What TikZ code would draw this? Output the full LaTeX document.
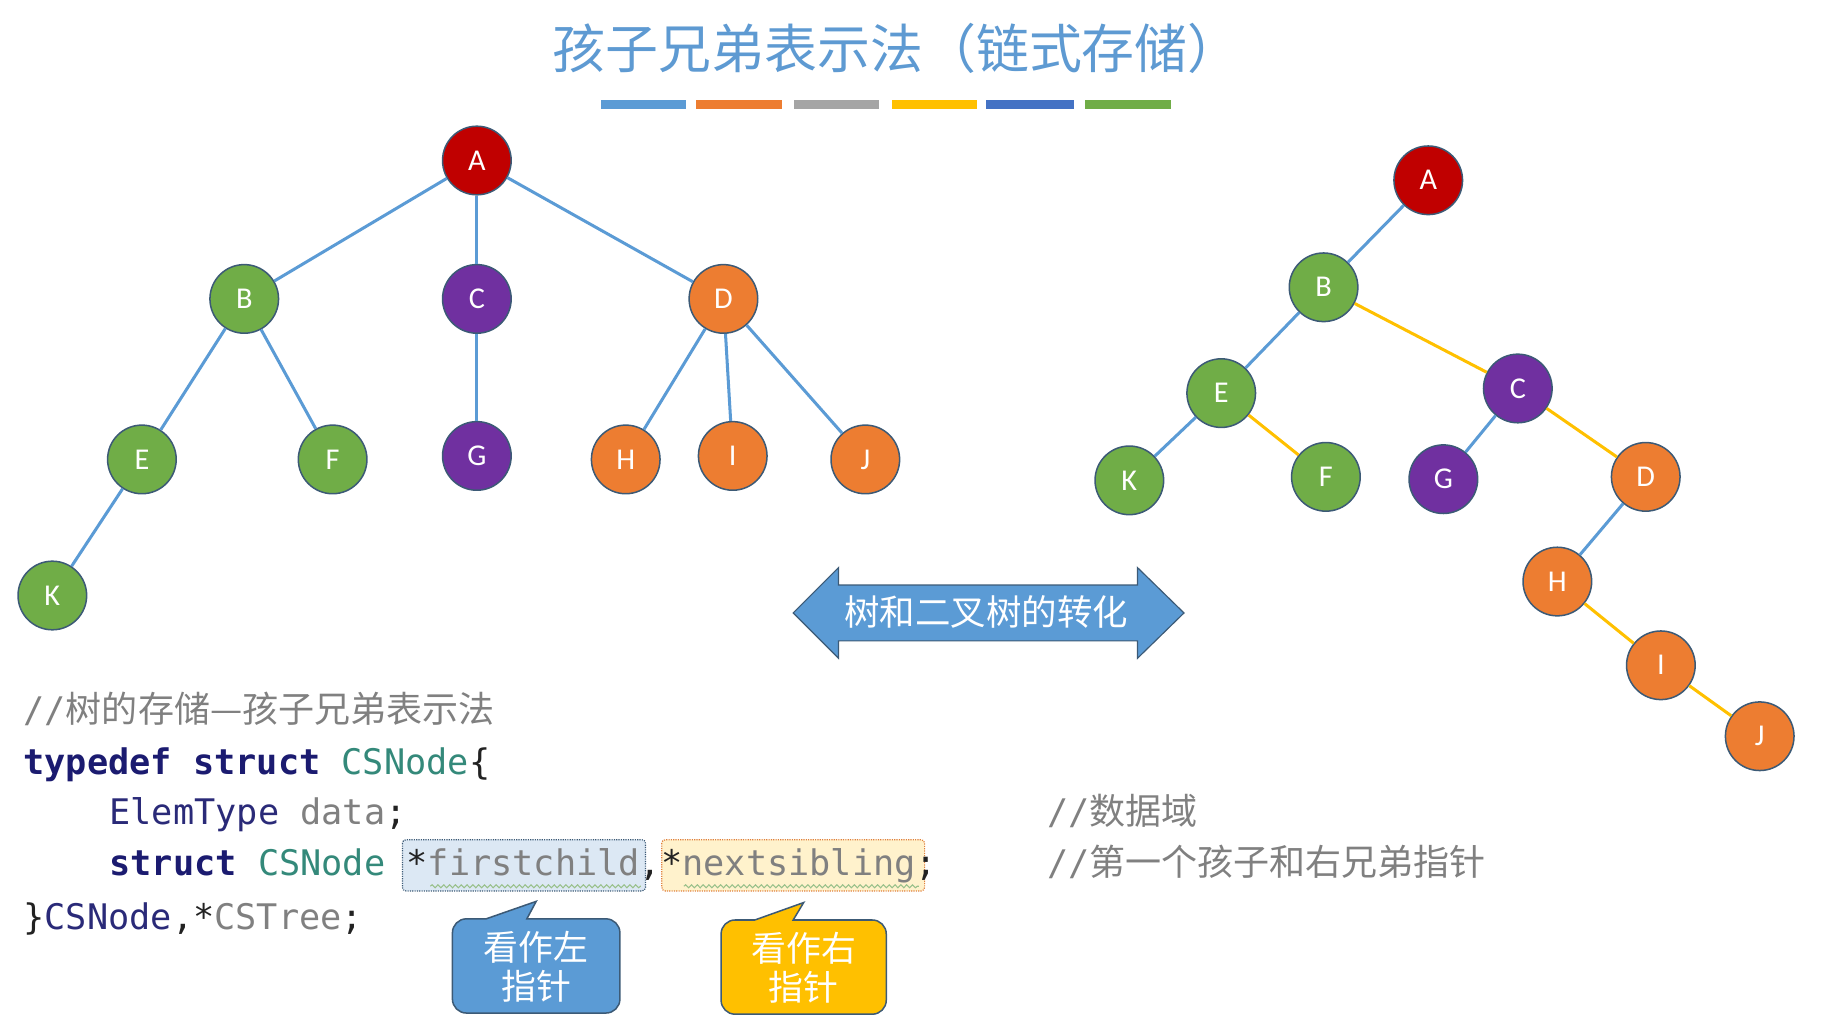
\documentclass[tikz,border=0pt]{standalone}
\usepackage{fontspec}
\setsansfont{Carlito}
\setmonofont{DejaVu Sans Mono}
\newfontfamily\cjk{Noto Sans CJK SC}
\usetikzlibrary{calc,arrows.meta,decorations.pathmorphing}
\definecolor{titleblue}{HTML}{5E9AD2}
\definecolor{edgeblue}{HTML}{5B9BD5}
\definecolor{edgeyellow}{HTML}{FFC000}
\definecolor{nodered}{HTML}{C00000}
\definecolor{nodegreen}{HTML}{70AD47}
\definecolor{nodepurple}{HTML}{7030A0}
\definecolor{nodeorange}{HTML}{ED7D31}
\definecolor{nodeline}{HTML}{3C5A76}
\definecolor{bargray}{HTML}{A5A5A5}
\definecolor{bardark}{HTML}{4472C4}
\definecolor{kwnavy}{HTML}{1B1B70}
\definecolor{idnavy}{HTML}{2A2A78}
\definecolor{csteal}{HTML}{34897A}
\definecolor{codegray}{HTML}{808080}
\definecolor{punct}{HTML}{222222}
\definecolor{hlblue}{HTML}{DCE8F4}
\definecolor{hlyellow}{HTML}{FFF2CC}
\definecolor{hlorange}{HTML}{E0803A}
\definecolor{wavegreen}{HTML}{98C08A}
\tikzset{
    every node/.style={inner sep=0pt},
    tree node/.style={circle,draw=nodeline,line width=1.3pt,minimum size=59pt,text=white,font=\sffamily\fontsize{26}{26}\selectfont},
    red node/.style={tree node,fill=nodered},
    green node/.style={tree node,fill=nodegreen},
    purple node/.style={tree node,fill=nodepurple},
    orange node/.style={tree node,fill=nodeorange},
    child edge/.style={line width=2.6pt,draw=edgeblue},
    sibling edge/.style={line width=2.6pt,draw=edgeyellow},
    bar/.style={line width=0pt},
    code/.style={anchor=base west,font=\ttfamily\fontsize{30.3}{36}\selectfont},
    comment/.style={code,text=codegray},
    hl box/.style={rounded corners=3pt,densely dotted,line width=1pt},
    wavy/.style={draw=wavegreen,line width=0.9pt,decorate,decoration={snake,amplitude=1.3pt,segment length=5pt}},
    callout/.style={draw=nodeline,line width=1.3pt},
    callout text/.style={text=white,align=center,font=\cjk\fontsize{30}{34}\selectfont},
}
\newcommand{\cn}[1]{{\cjk\fontsize{31}{36}\selectfont #1}}

\begin{document}
\begin{tikzpicture}[x=1pt,y=-1pt]
    \useasboundingbox (0,0) rectangle (1570,878.7);

    \node[text=titleblue,font=\cjk\fontsize{45.5}{46}\selectfont] (title) at (771,42) {孩子兄弟表示法（链式存储）};
    \fill[bar,edgeblue] (517,86) rectangle (590,94);
    \fill[bar,nodeorange] (598,86) rectangle (672,94);
    \fill[bar,bargray] (683,86) rectangle (756,94);
    \fill[bar,edgeyellow] (767,86) rectangle (840,94);
    \fill[bar,bardark] (848,86) rectangle (923,94);
    \fill[bar,nodegreen] (933,86) rectangle (1007,94);

    % tree
    \node[red node] (lA) at (410,138) {A};
    \node[green node] (lB) at (210,257) {B};
    \node[purple node] (lC) at (410,257) {C};
    \node[orange node] (lD) at (622,257) {D};
    \node[green node] (lE) at (122,395) {E};
    \node[green node] (lF) at (286,395) {F};
    \node[purple node] (lG) at (410,392) {G};
    \node[orange node] (lH) at (538,395) {H};
    \node[orange node] (lI) at (630,392) {I};
    \node[orange node] (lJ) at (744,395) {J};
    \node[green node] (lK) at (45,512) {K};
    \draw[child edge] (lA) -- (lB);
    \draw[child edge] (lA) -- (lC);
    \draw[child edge] (lA) -- (lD);
    \draw[child edge] (lB) -- (lE);
    \draw[child edge] (lB) -- (lF);
    \draw[child edge] (lC) -- (lG);
    \draw[child edge] (lD) -- (lH);
    \draw[child edge] (lD) -- (lI);
    \draw[child edge] (lD) -- (lJ);
    \draw[child edge] (lE) -- (lK);

    % binary tree
    \node[red node] (rA) at (1228,155) {A};
    \node[green node] (rB) at (1138,247) {B};
    \node[green node] (rE) at (1050,338) {E};
    \node[purple node] (rC) at (1305,334) {C};
    \node[green node] (rK) at (971,413) {K};
    \node[green node] (rF) at (1140,410) {F};
    \node[purple node] (rG) at (1241,412) {G};
    \node[orange node] (rD) at (1415,410) {D};
    \node[orange node] (rH) at (1339,500) {H};
    \node[orange node] (rI) at (1428,572) {I};
    \node[orange node] (rJ) at (1513,633) {J};
    \draw[child edge] (rA) -- (rB);
    \draw[child edge] (rB) -- (rE);
    \draw[sibling edge] (rB) -- (rC);
    \draw[child edge] (rE) -- (rK);
    \draw[sibling edge] (rE) -- (rF);
    \draw[child edge] (rC) -- (rG);
    \draw[sibling edge] (rC) -- (rD);
    \draw[child edge] (rD) -- (rH);
    \draw[sibling edge] (rH) -- (rI);
    \draw[sibling edge] (rI) -- (rJ);

    % double arrow
    \draw[fill=edgeblue,draw=nodeline,line width=1pt] (682,527) -- (721,488) -- (721,503) -- (978,503) -- (978,488) -- (1018,527)
        -- (978,566) -- (978,551) -- (721,551) -- (721,566) -- cycle;
    \node[text=white,font=\cjk\fontsize{30.5}{30}\selectfont] (conv) at (848,526) {树和二叉树的转化};

    % code
    \draw[hl box,fill=hlblue,draw=nodeline] (346,722) rectangle (555,766);
    \draw[hl box,fill=hlyellow,draw=hlorange] (569,722) rectangle (795,766);
    \draw[wavy] (370,762) -- (551,762);
    \draw[wavy] (588,762) -- (790,762);
    \node[comment] (c1) at (20,621) {//\cn{树的存储—孩子兄弟表示法}};
    \node[code] (c2) at (20,666) {{\bfseries\color{kwnavy}typedef struct} {\color{csteal}CSNode}{\color{punct}\{}};
    \node[code] (c3) at (94,709) {{\color{idnavy}ElemType} {\color{codegray}data}{\color{punct};}};
    \node[code] (c4) at (94,753) {{\bfseries\color{kwnavy}struct} {\color{csteal}CSNode} {\color{punct}*}{\color{codegray}firstchild}{\color{punct},*}{\color{codegray}nextsibling}{\color{punct};}};
    \node[code] (c5) at (20,799) {{\color{punct}\}}{\color{idnavy}CSNode}{\color{punct},*}{\color{codegray}CSTree}{\color{punct};}};
    \node[comment] (d1) at (900,709) {//\cn{数据域}};
    \node[comment] (d2) at (900,753) {//\cn{第一个孩子和右兄弟指针}};

    % callouts
    \draw[callout,fill=edgeblue] (453,790) [rounded corners=12pt] -- (533,790) -- (533,871) -- (389,871) -- (389,790) [sharp corners] -- (418,790) -- (461,775) -- cycle;
    \node[callout text] (lnote) at (461,831) {看作左\\指针};
    \draw[callout,fill=edgeyellow] (682,791) [rounded corners=12pt] -- (762,791) -- (762,872) -- (620,872) -- (620,791) [sharp corners] -- (649,791) -- (691,776) -- cycle;
    \node[callout text] (rnote) at (691,832) {看作右\\指针};
\end{tikzpicture}
\end{document}
